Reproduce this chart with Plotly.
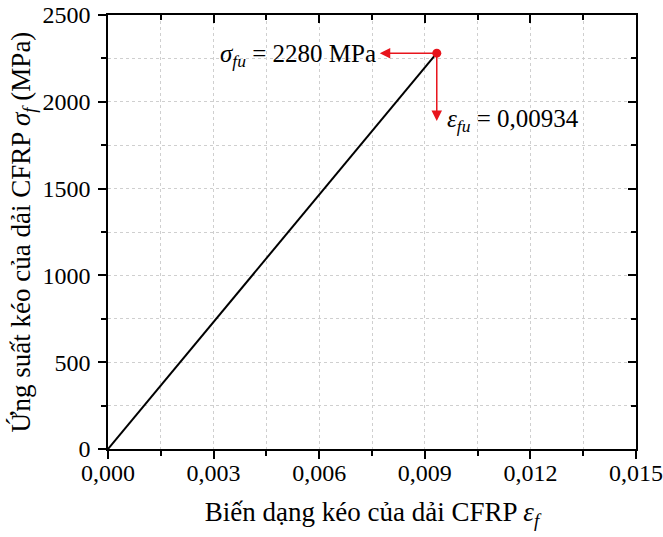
import plotly.graph_objects as go

# data
strain = [0.0, 0.00934]
stress = [0.0, 2280.0]
ult_strain = 0.00934
ult_stress = 2280.0
arrow_left_x = 0.00772
arrow_down_y = 1890.0

x_tickvals = [0.0, 0.003, 0.006, 0.009, 0.012, 0.015]
x_ticktext = ["0,000", "0,003", "0,006", "0,009", "0,012", "0,015"]
x_minor = [0.0015, 0.0045, 0.0075, 0.0105, 0.0135]
y_tickvals = [0, 500, 1000, 1500, 2000, 2500]
y_ticktext = ["0", "500", "1000", "1500", "2000", "2500"]
y_minor = [250, 750, 1250, 1750, 2250]

FONT = "Liberation Serif"
GRID = "#cfcfcf"

fig = go.Figure()
fig.add_trace(go.Scatter(x=strain, y=stress, mode="lines",
                         line=dict(color="black", width=2), showlegend=False,
                         hoverinfo="skip"))
fig.add_trace(go.Scatter(x=[ult_strain], y=[ult_stress], mode="markers",
                         marker=dict(color="#e8141c", size=9), showlegend=False))
# invisible trace for mirrored axes
fig.add_trace(go.Scatter(x=strain, y=stress, xaxis="x2", yaxis="y2", mode="lines",
                         line=dict(width=0), opacity=0, showlegend=False,
                         hoverinfo="skip"))

common = dict(showline=True, linecolor="black", linewidth=1.5, zeroline=False,
              automargin=False)

fig.update_layout(
    width=663, height=537,
    margin=dict(l=108, r=27, t=15, b=88),
    plot_bgcolor="white", paper_bgcolor="white",
    font=dict(family=FONT, size=24, color="black"),
    xaxis=dict(range=[0, 0.015], tickmode="array", tickvals=x_tickvals,
               ticktext=x_ticktext, ticks="outside", ticklen=8, tickwidth=1.5,
               tickcolor="black", showgrid=True, gridcolor=GRID, griddash="dot",
               gridwidth=1, ticklabelstandoff=-7,
               minor=dict(tickvals=x_minor, ticks="outside", ticklen=5,
                          tickwidth=1.5, tickcolor="black", showgrid=True,
                          gridcolor=GRID, griddash="dot", gridwidth=1),
               title=dict(text="Biến dạng kéo của dải CFRP <i>ε<sub>f</sub></i>",
                          standoff=18, font=dict(size=27)),
               tickfont=dict(size=24), **common),
    yaxis=dict(range=[0, 2500], tickmode="array", tickvals=y_tickvals,
               ticktext=y_ticktext, ticks="outside", ticklen=8, tickwidth=1.5,
               tickcolor="black", showgrid=True, gridcolor=GRID, griddash="dot",
               gridwidth=1, ticklabelstandoff=3,
               minor=dict(tickvals=y_minor, ticks="outside", ticklen=5,
                          tickwidth=1.5, tickcolor="black", showgrid=True,
                          gridcolor=GRID, griddash="dot", gridwidth=1),
               title=dict(text="Ứng suất kéo của dải CFRP <i>σ<sub>f</sub></i> (MPa)",
                          standoff=4, font=dict(size=27)),
               tickfont=dict(size=24), **common),
    xaxis2=dict(range=[0, 0.015], overlaying="x", side="top", anchor="y2",
                tickmode="array", tickvals=x_tickvals, ticktext=[""] * 6,
                ticks="inside", ticklen=8, tickwidth=1.5, tickcolor="black",
                showgrid=False, showticklabels=False,
                minor=dict(tickvals=x_minor, ticks="inside", ticklen=5,
                           tickwidth=1.5, tickcolor="black", showgrid=False),
                **common),
    yaxis2=dict(range=[0, 2500], overlaying="y", side="right", anchor="x2",
                tickmode="array", tickvals=y_tickvals, ticktext=[""] * 6,
                ticks="inside", ticklen=8, tickwidth=1.5, tickcolor="black",
                showgrid=False, showticklabels=False,
                minor=dict(tickvals=y_minor, ticks="inside", ticklen=5,
                           tickwidth=1.5, tickcolor="black", showgrid=False),
                **common),
)

RED = "#e8141c"
fig.add_annotation(x=arrow_left_x, y=ult_stress, ax=ult_strain, ay=ult_stress,
                   xref="x", yref="y", axref="x", ayref="y", text="",
                   showarrow=True, arrowhead=2, arrowsize=1.4, arrowwidth=1.5,
                   arrowcolor=RED, standoff=0, startstandoff=0)
fig.add_annotation(x=ult_strain, y=arrow_down_y, ax=ult_strain, ay=ult_stress,
                   xref="x", yref="y", axref="x", ayref="y", text="",
                   showarrow=True, arrowhead=2, arrowsize=1.4, arrowwidth=1.5,
                   arrowcolor=RED, standoff=0, startstandoff=0)
fig.add_annotation(x=arrow_left_x, y=ult_stress, xref="x", yref="y",
                   text="<i>σ<sub>fu</sub></i> = 2280 MPa", showarrow=False,
                   xanchor="right", yanchor="middle", xshift=-2, yshift=-2,
                   font=dict(family=FONT, size=25, color="black"))
fig.add_annotation(x=ult_strain, y=arrow_down_y, xref="x", yref="y",
                   text="<i>ε<sub>fu</sub></i> = 0,00934", showarrow=False,
                   xanchor="left", yanchor="middle", xshift=8, yshift=0,
                   font=dict(family=FONT, size=25, color="black"))

fig.write_html("out.html")
